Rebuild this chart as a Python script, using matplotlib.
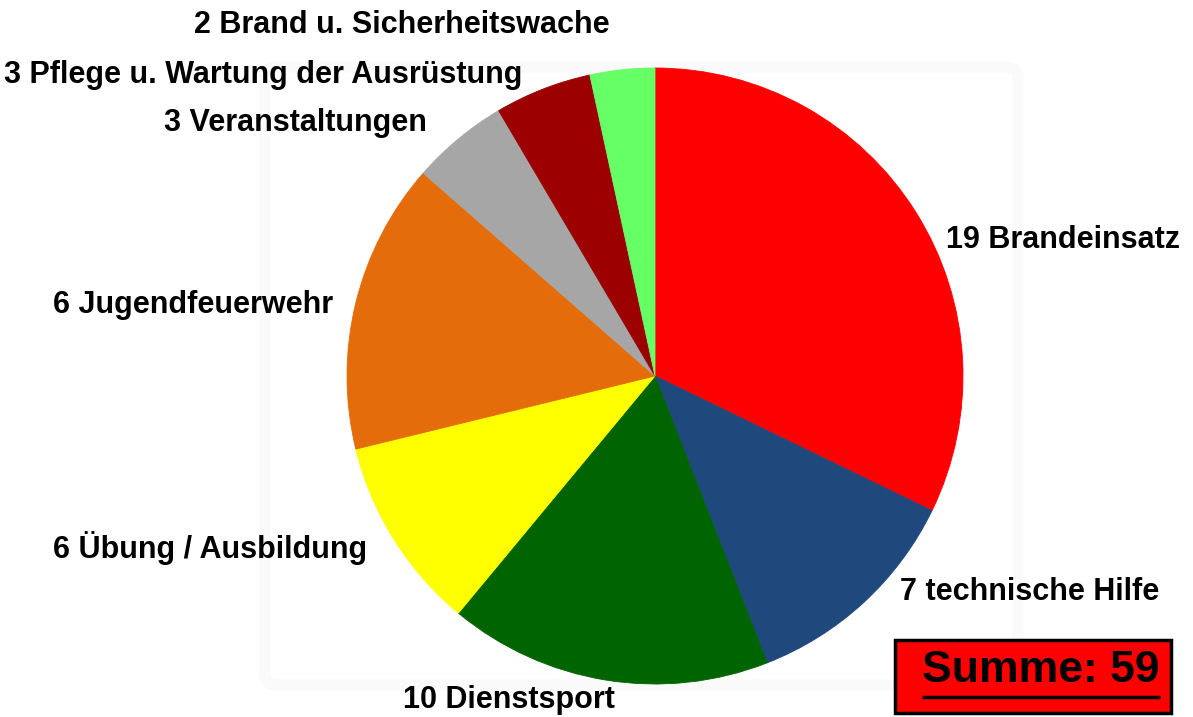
import matplotlib.pyplot as plt
from matplotlib.patches import Rectangle, FancyBboxPatch

# Einsatzarten (im Uhrzeigersinn ab 12 Uhr)
labels = ["19 Brandeinsatz", "7 technische Hilfe", "10 Dienstsport",
          "6 Übung / Ausbildung", "6 Jugendfeuerwehr", "3 Veranstaltungen",
          "3 Pflege u. Wartung der Ausrüstung", "2 Brand u. Sicherheitswache"]
values = [19, 7, 10, 6, 9, 3, 3, 2]
colors = ["#FF0000", "#1F497D", "#006400", "#FFFF00",
          "#E46C0A", "#A6A6A6", "#9C0000", "#66FF66"]
summe_text = "Summe: 59"

W, H = 1193, 717
plt.rcParams['font.family'] = ['Liberation Sans', 'DejaVu Sans']

fig = plt.figure(figsize=(W / 100, H / 100), dpi=100)
ax = fig.add_axes([0, 0, 1, 1])

wedges, _ = ax.pie(values, colors=colors, startangle=90, counterclock=False,
                   center=(655, H - 376), radius=308,
                   wedgeprops=dict(linewidth=0.6))
for w in wedges:
    w.set_edgecolor(w.get_facecolor())

# pie() setzt die Achsen neu -> danach festlegen
ax.set_xlim(0, W)
ax.set_ylim(0, H)
ax.set_aspect('equal')
ax.axis('off')

# blasser Rahmen hinter dem Diagramm
ax.add_patch(FancyBboxPatch((265, H - 685), 753, 618,
                            boxstyle="round,pad=0,rounding_size=12",
                            facecolor='none', edgecolor='#fafafa', lw=8,
                            zorder=0))

# Beschriftungen (Pixelposition der Textmitte)
label_pos = [(1063, 240), (1030, 592), (509, 700), (210, 548),
             (193, 305), (295, 123), (263, 75), (402, 25)]
for txt, (x, y) in zip(labels, label_pos):
    ax.text(x, H - y, txt, ha='center', va='center', fontsize=22,
            fontweight='bold', color='black')

# Summe-Kasten
ax.add_patch(Rectangle((895, H - 713), 276, 73, facecolor='#FF0000',
                       edgecolor='black', lw=2.5))
t = ax.text(1041, H - 671, summe_text, ha='center', va='center',
            fontsize=32, fontweight='bold', color='black')
fig.canvas.draw()
bb = t.get_window_extent().transformed(ax.transData.inverted())
ax.plot([bb.x0, bb.x1], [H - 697, H - 697], color='black', lw=2.5,
        solid_capstyle='butt')

fig.savefig("out.png", dpi=100)
